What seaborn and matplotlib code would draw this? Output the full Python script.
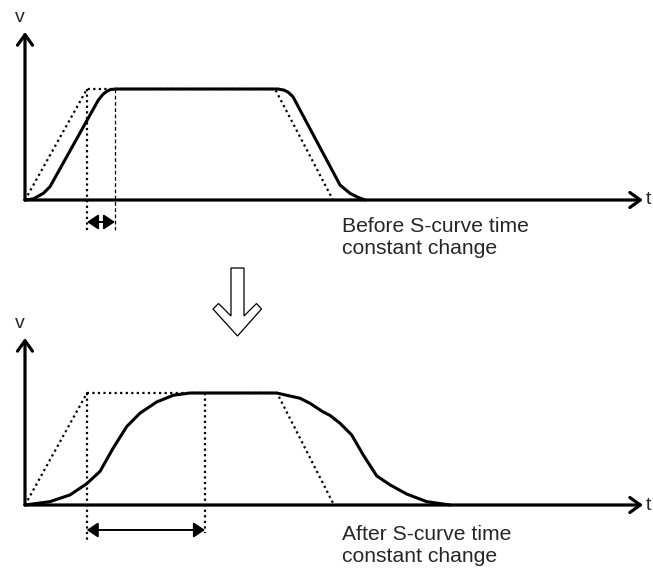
import numpy as np
import pandas as pd
import matplotlib.pyplot as plt
import seaborn as sns
from matplotlib.patches import Polygon

# time in units of 10 px from the origin, velocity normalised to the plateau (v = 1)

# before S-curve time constant change
before_ref_t = [0.0, 6.2, 25.0, 30.8]
before_ref_v = [0.0, 1.0, 1.0, 0.0]
before_t = [0.0, 0.83, 1.83, 2.5, 7.33, 7.83, 8.2, 8.5, 9.0, 25.3, 25.9, 26.3, 26.8, 31.5, 32.5, 33.3, 34.0]
before_v = [0.0, 0.01, 0.06, 0.12, 0.90, 0.955, 0.98, 0.993, 1.0, 1.0, 0.99, 0.972, 0.93, 0.135, 0.06, 0.024, 0.0]
before_span = [6.2, 9.0]

# after S-curve time constant change
after_ref_t = [0.0, 6.2, 25.2, 30.9]
after_ref_v = [0.0, 1.0, 1.0, 0.0]
after_t = [0.0, 2.5, 4.5, 6.17, 7.5, 8.83, 10.17, 11.5, 13.17, 14.83, 16.5,
           25.17, 27.5, 28.5, 29.83, 30.5, 31.5, 32.67, 33.83, 35.17, 36.5, 38.17, 40.17, 42.5]
after_v = [0.0, 0.03, 0.09, 0.19, 0.30, 0.51, 0.70, 0.82, 0.92, 0.98, 1.0,
           1.0, 0.953, 0.908, 0.83, 0.80, 0.73, 0.625, 0.446, 0.26, 0.18, 0.098, 0.03, 0.0]
after_span = [6.17, 18.0]

captions = ["Before S-curve time\nconstant change", "After S-curve time\nconstant change"]

sns.set_style("white")
plt.rcParams["font.family"] = ["Liberation Sans", "DejaVu Sans"]

W, H = 653, 568
fig = plt.figure(figsize=(W / 100, H / 100), dpi=100)

LW = 2.2
arrow_axis = dict(arrowstyle="->,head_length=0.5,head_width=0.36", lw=2.3,
                  color="black", shrinkA=0, shrinkB=0, mutation_scale=15)
arrow_span = dict(arrowstyle="<|-|>,head_length=0.45,head_width=0.3", lw=1.4,
                  color="black", shrinkA=0, shrinkB=0, mutation_scale=15)


def make_panel(ox, oy, tip_x, tip_y, unit_v):
    ax = fig.add_axes([ox / W, (H - oy) / H, (tip_x - ox) / W, (oy - tip_y) / H])
    xmax = (tip_x - ox) / 10
    ymax = (oy - tip_y) / unit_v
    ax.set_xlim(0, xmax)
    ax.set_ylim(0, ymax)
    ax.axis("off")
    ax.annotate("", xy=(xmax, 0), xytext=(0, 0), arrowprops=arrow_axis, annotation_clip=False)
    ax.annotate("", xy=(0, ymax), xytext=(0, 0), arrowprops=arrow_axis, annotation_clip=False)
    ax.text(xmax + 0.25, 0, "t", fontsize=14, va="center", ha="left", clip_on=False)
    ax.text(-0.5, ymax + 15 / unit_v, "v", fontsize=14, va="center", ha="center", clip_on=False)
    return ax, unit_v


def draw(ax, unit_v, ref_t, ref_v, t, v, span, caption, drop_a, drop_b, span_y, cap_y, thin_right):
    ref = pd.DataFrame({"t": ref_t, "v": ref_v})
    cur = pd.DataFrame({"t": t, "v": v})
    sns.lineplot(data=ref, x="t", y="v", ax=ax, sort=False, estimator=None,
                 color="black", lw=1.6, linestyle=(0, (1, 1.5)), clip_on=False)
    sns.lineplot(data=cur, x="t", y="v", ax=ax, sort=False, estimator=None,
                 color="black", lw=LW, clip_on=False, solid_joinstyle="round")
    ax.plot([span[0], span[0]], [1, drop_a], color="black", lw=1.6,
            linestyle=(0, (1, 1.5)), clip_on=False)
    if thin_right:
        ax.plot([span[1], span[1]], [1, drop_b], color="black", lw=0.9,
                linestyle=(0, (3, 2)), clip_on=False)
    else:
        ax.plot([span[1], span[1]], [1, drop_b], color="black", lw=1.6,
                linestyle=(0, (1, 1.5)), clip_on=False)
    ax.annotate("", xy=(span[1], span_y), xytext=(span[0], span_y),
                arrowprops=arrow_span, annotation_clip=False)
    ax.text(31.7, cap_y, caption, fontsize=15.2, va="top", ha="left",
            linespacing=1.16, clip_on=False)
    ax.set_xlabel("")
    ax.set_ylabel("")


ax1, u1 = make_panel(25, 200, 643, 32, 111)
draw(ax1, u1, before_ref_t, before_ref_v, before_t, before_v, before_span, captions[0],
     -0.29, -0.27, -0.198, -0.155, True)

ax2, u2 = make_panel(25, 505, 643, 338, 112)
draw(ax2, u2, after_ref_t, after_ref_v, after_t, after_v, after_span, captions[1],
     -0.34, -0.25, -0.223, -0.18, False)

# hollow "changes to" arrow between the two panels (pixel coordinates)
over = fig.add_axes([0, 0, 1, 1], zorder=5)
over.set_xlim(0, W)
over.set_ylim(H, 0)
over.axis("off")
hollow = [(231, 268), (244, 268), (244, 316), (256.5, 303.5), (261.5, 309),
          (237.5, 336), (213, 309), (218.5, 303.5), (231, 316)]
over.add_patch(Polygon(hollow, closed=True, facecolor="white", edgecolor="black", lw=0.9))

fig.savefig("out.png", dpi=100)
